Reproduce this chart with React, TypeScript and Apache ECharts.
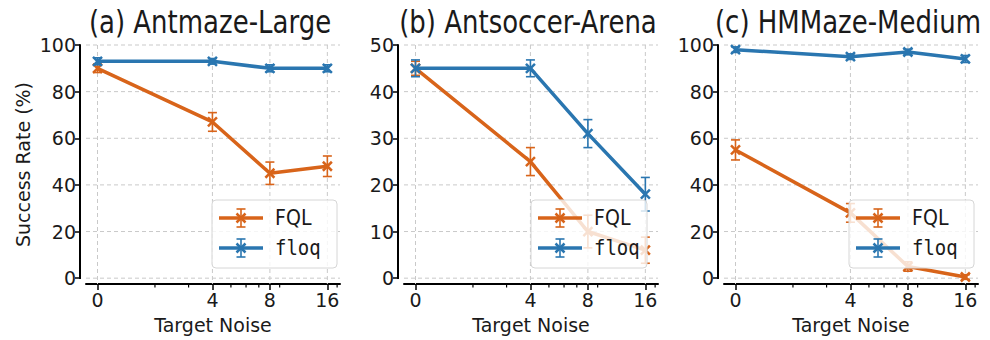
import React, { useEffect, useRef } from "react";
import * as echarts from "echarts";

// ---------- data ----------
const noiseLevels = [0, 4, 8, 16];
const noiseLabels = ["0", "4", "8", "16"];
const minorNoise = [2, 3, 5, 6, 7, 9, 18];
const titles = ["(a) Antmaze-Large", "(b) Antsoccer-Arena", "(c) HMMaze-Medium"];
const yMaxes = [100, 50, 100];
const yMins = [-2.5, -1.25, -2.5];
const yTickSteps = [20, 10, 20];
const seriesNames = ["FQL", "floq"];

const fqlA = [90, 67, 45, 48];
const fqlAErr = [1.8, 4, 4.8, 4.4];
const floqA = [93, 93, 90, 90];
const floqAErr = [1.5, 1.2, 1.5, 1.5];

const fqlB = [45, 25, 10, 6];
const fqlBErr = [1.5, 3, 3.5, 2.8];
const floqB = [45, 45, 31, 18];
const floqBErr = [1.8, 1.8, 3, 3.6];

const fqlC = [55, 28, 5, 0.5];
const fqlCErr = [4.3, 4, 2, 1];
const floqC = [98, 95, 97, 94];
const floqCErr = [1.2, 1.2, 1.2, 1.5];

const panelValues = [
  [fqlA, floqA],
  [fqlB, floqB],
  [fqlC, floqC],
];
const panelErrors = [
  [fqlAErr, floqAErr],
  [fqlBErr, floqBErr],
  [fqlCErr, floqCErr],
];

// ---------- style / layout ----------
const COLORS = ["#d8641a", "#2a76b0"];
const FONT = "DejaVu Sans";
const MONO = "DejaVu Sans Mono";
const TEXT = "#1a1a1a";
const GRID_LEFTS = [86, 404, 724];
const GRID_W = 254;
const GRID_TOP = 45;
const GRID_H = 239;
const X_MIN = -0.2;
const X_MAX = 4.22;
const LEGEND_BOXES = [
  [212, 200, 125, 68],
  [531, 200, 116, 68],
  [849, 200, 125, 68],
];

// symmetric log (base 2, linthresh 2) transform used by the x axis
const symlog = (v: number) =>
  Math.abs(v) <= 2 ? v / 2 : Math.sign(v) * (1 + Math.log2(Math.abs(v) / 2));

const xs = noiseLevels.map(symlog);
const minorXs = minorNoise.map(symlog);

function ticksFor(p: number) {
  const out: number[] = [];
  for (let t = 0; t <= yMaxes[p] + 1e-9; t += yTickSteps[p]) out.push(t);
  return out;
}

function buildOption() {
  const grid: any[] = [];
  const xAxis: any[] = [];
  const yAxis: any[] = [];
  const series: any[] = [];
  const graphic: any[] = [];

  for (let p = 0; p < 3; p++) {
    const yTicks = ticksFor(p);
    grid.push({
      left: GRID_LEFTS[p],
      top: GRID_TOP,
      width: GRID_W,
      height: GRID_H,
      containLabel: false,
      outerBoundsMode: "none",
    });
    xAxis.push({
      type: "value",
      gridIndex: p,
      min: X_MIN,
      max: X_MAX,
      name: "Target Noise",
      nameLocation: "middle",
      nameGap: 31,
      nameTextStyle: { fontFamily: FONT, fontSize: 19, color: TEXT },
      axisLine: { show: true, onZero: false, lineStyle: { color: "#000", width: 2 } },
      axisTick: {
        show: true,
        length: 6,
        customValues: xs,
        lineStyle: { color: "#000", width: 1.5 },
      },
      axisLabel: {
        show: true,
        customValues: xs,
        margin: 6,
        fontFamily: FONT,
        fontSize: 19,
        color: TEXT,
        formatter: (v: number) => {
          let best = 0;
          for (let i = 0; i < xs.length; i++)
            if (Math.abs(xs[i] - v) < Math.abs(xs[best] - v)) best = i;
          return noiseLabels[best];
        },
      },
      splitLine: { show: false },
    });
    yAxis.push({
      type: "value",
      gridIndex: p,
      min: yMins[p],
      max: yMaxes[p],
      offset: 6,
      name: p === 0 ? "Success Rate (%)" : "",
      nameLocation: "middle",
      nameGap: 48,
      nameTextStyle: { fontFamily: FONT, fontSize: 19, color: TEXT },
      axisLine: { show: false, onZero: false },
      axisTick: {
        show: true,
        length: 5,
        customValues: yTicks,
        lineStyle: { color: "#000", width: 1.5 },
      },
      axisLabel: {
        show: true,
        customValues: yTicks,
        margin: 4,
        fontFamily: FONT,
        fontSize: 19,
        color: TEXT,
      },
      splitLine: { show: false },
    });

    // frame: grid lines, trimmed y spine, minor x ticks
    series.push({
      type: "custom",
      xAxisIndex: p,
      yAxisIndex: p,
      z: 1,
      silent: true,
      data: [[0, 0]],
      renderItem: (params: any, api: any) => {
        const cs = params.coordSys;
        const children: any[] = [];
        const dash = { stroke: "#c9c9c9", lineWidth: 1, lineDash: [4, 3] };
        xs.forEach((v) => {
          const px = api.coord([v, 0])[0];
          children.push({
            type: "line",
            shape: { x1: px, y1: cs.y, x2: px, y2: cs.y + cs.height },
            style: dash,
          });
        });
        yTicks.forEach((t) => {
          const py = api.coord([0, t])[1];
          children.push({
            type: "line",
            shape: { x1: cs.x, y1: py, x2: cs.x + cs.width, y2: py },
            style: dash,
          });
        });
        const y0 = api.coord([0, 0])[1];
        const yTop = api.coord([0, yMaxes[p]])[1];
        children.push({
          type: "line",
          shape: { x1: cs.x - 6, y1: y0 + 0.75, x2: cs.x - 6, y2: yTop - 0.75 },
          style: { stroke: "#000", lineWidth: 2 },
        });
        minorXs.forEach((m) => {
          const px = api.coord([m, 0])[0];
          if (px < cs.x || px > cs.x + cs.width) return;
          children.push({
            type: "line",
            shape: { x1: px, y1: cs.y + cs.height, x2: px, y2: cs.y + cs.height + 3.5 },
            style: { stroke: "#000", lineWidth: 1.2 },
          });
        });
        return { type: "group", children };
      },
    });

    for (let s = 0; s < 2; s++) {
      const vals = panelValues[p][s];
      const errs = panelErrors[p][s];
      const color = COLORS[s];
      series.push({
        type: "line",
        name: seriesNames[s],
        xAxisIndex: p,
        yAxisIndex: p,
        z: 2 + s * 2,
        symbol: "none",
        lineStyle: { color, width: 3.5 },
        data: noiseLevels.map((n, i) => [symlog(n), vals[i]]),
      });
      series.push({
        type: "custom",
        name: seriesNames[s] + " err",
        xAxisIndex: p,
        yAxisIndex: p,
        z: 3 + s * 2,
        data: noiseLevels.map((n, i) => [symlog(n), vals[i], errs[i]]),
        renderItem: (params: any, api: any) => {
          const x = api.value(0);
          const y = api.value(1);
          const e = api.value(2);
          const c = api.coord([x, y]);
          const lo = api.coord([x, y - e]);
          const hi = api.coord([x, y + e]);
          const cap = 4.5;
          const m = 4.5;
          return {
            type: "group",
            children: [
              { type: "line", shape: { x1: c[0], y1: lo[1], x2: c[0], y2: hi[1] }, style: { stroke: color, lineWidth: 1.6 } },
              { type: "line", shape: { x1: c[0] - cap, y1: lo[1], x2: c[0] + cap, y2: lo[1] }, style: { stroke: color, lineWidth: 1.6 } },
              { type: "line", shape: { x1: c[0] - cap, y1: hi[1], x2: c[0] + cap, y2: hi[1] }, style: { stroke: color, lineWidth: 1.6 } },
              { type: "line", shape: { x1: c[0] - m, y1: c[1] - m, x2: c[0] + m, y2: c[1] + m }, style: { stroke: color, lineWidth: 2.5 } },
              { type: "line", shape: { x1: c[0] - m, y1: c[1] + m, x2: c[0] + m, y2: c[1] - m }, style: { stroke: color, lineWidth: 2.5 } },
            ],
          };
        },
      });
    }

    // title
    graphic.push({
      type: "text",
      x: GRID_LEFTS[p] + GRID_W / 2 - 3,
      y: 22,
      z: 20,
      scaleY: 1.2,
      style: {
        text: titles[p],
        fill: TEXT,
        fontFamily: FONT,
        fontSize: 26,
        align: "center",
        verticalAlign: "middle",
      },
    });

    // legend (drawn above the curves, semi-transparent face)
    const [bx, by, bw, bh] = LEGEND_BOXES[p];
    graphic.push({
      type: "rect",
      z: 100,
      shape: { x: bx, y: by, width: bw, height: bh, r: 4 },
      style: { fill: "rgba(255,255,255,0.8)", stroke: "#d6d6d6", lineWidth: 1 },
    });
    for (let s = 0; s < 2; s++) {
      const color = COLORS[s];
      const cy = by + 18 + s * 30;
      const cx = bx + 29;
      const items: any[] = [
        { type: "line", shape: { x1: bx + 7, y1: cy, x2: bx + 51, y2: cy }, style: { stroke: color, lineWidth: 3.5 } },
        { type: "line", shape: { x1: cx, y1: cy - 9, x2: cx, y2: cy + 9 }, style: { stroke: color, lineWidth: 1.6 } },
        { type: "line", shape: { x1: cx - 4.5, y1: cy - 9, x2: cx + 4.5, y2: cy - 9 }, style: { stroke: color, lineWidth: 1.6 } },
        { type: "line", shape: { x1: cx - 4.5, y1: cy + 9, x2: cx + 4.5, y2: cy + 9 }, style: { stroke: color, lineWidth: 1.6 } },
        { type: "line", shape: { x1: cx - 4.5, y1: cy - 4.5, x2: cx + 4.5, y2: cy + 4.5 }, style: { stroke: color, lineWidth: 2.5 } },
        { type: "line", shape: { x1: cx - 4.5, y1: cy + 4.5, x2: cx + 4.5, y2: cy - 4.5 }, style: { stroke: color, lineWidth: 2.5 } },
      ];
      items.forEach((it) => graphic.push({ ...it, z: 101 }));
      graphic.push({
        type: "text",
        z: 101,
        x: bx + 63,
        y: cy,
        scaleY: 1.1,
        style: {
          text: seriesNames[s],
          fill: TEXT,
          fontFamily: s === 0 ? FONT : MONO,
          fontSize: 19,
          align: "left",
          verticalAlign: "middle",
        },
      });
    }
  }

  return {
    animation: false,
    backgroundColor: "#ffffff",
    grid,
    xAxis,
    yAxis,
    series,
    graphic,
  };
}

export default function App() {
  const ref = useRef<HTMLDivElement>(null);
  useEffect(() => {
    if (!ref.current) return;
    const chart = echarts.init(ref.current, null, { renderer: "svg" });
    chart.setOption(buildOption() as any);
    return () => chart.dispose();
  }, []);
  return (
    <div
      ref={ref}
      style={{ width: 990, height: 340, position: "absolute", left: 0, top: 0 }}
    />
  );
}
